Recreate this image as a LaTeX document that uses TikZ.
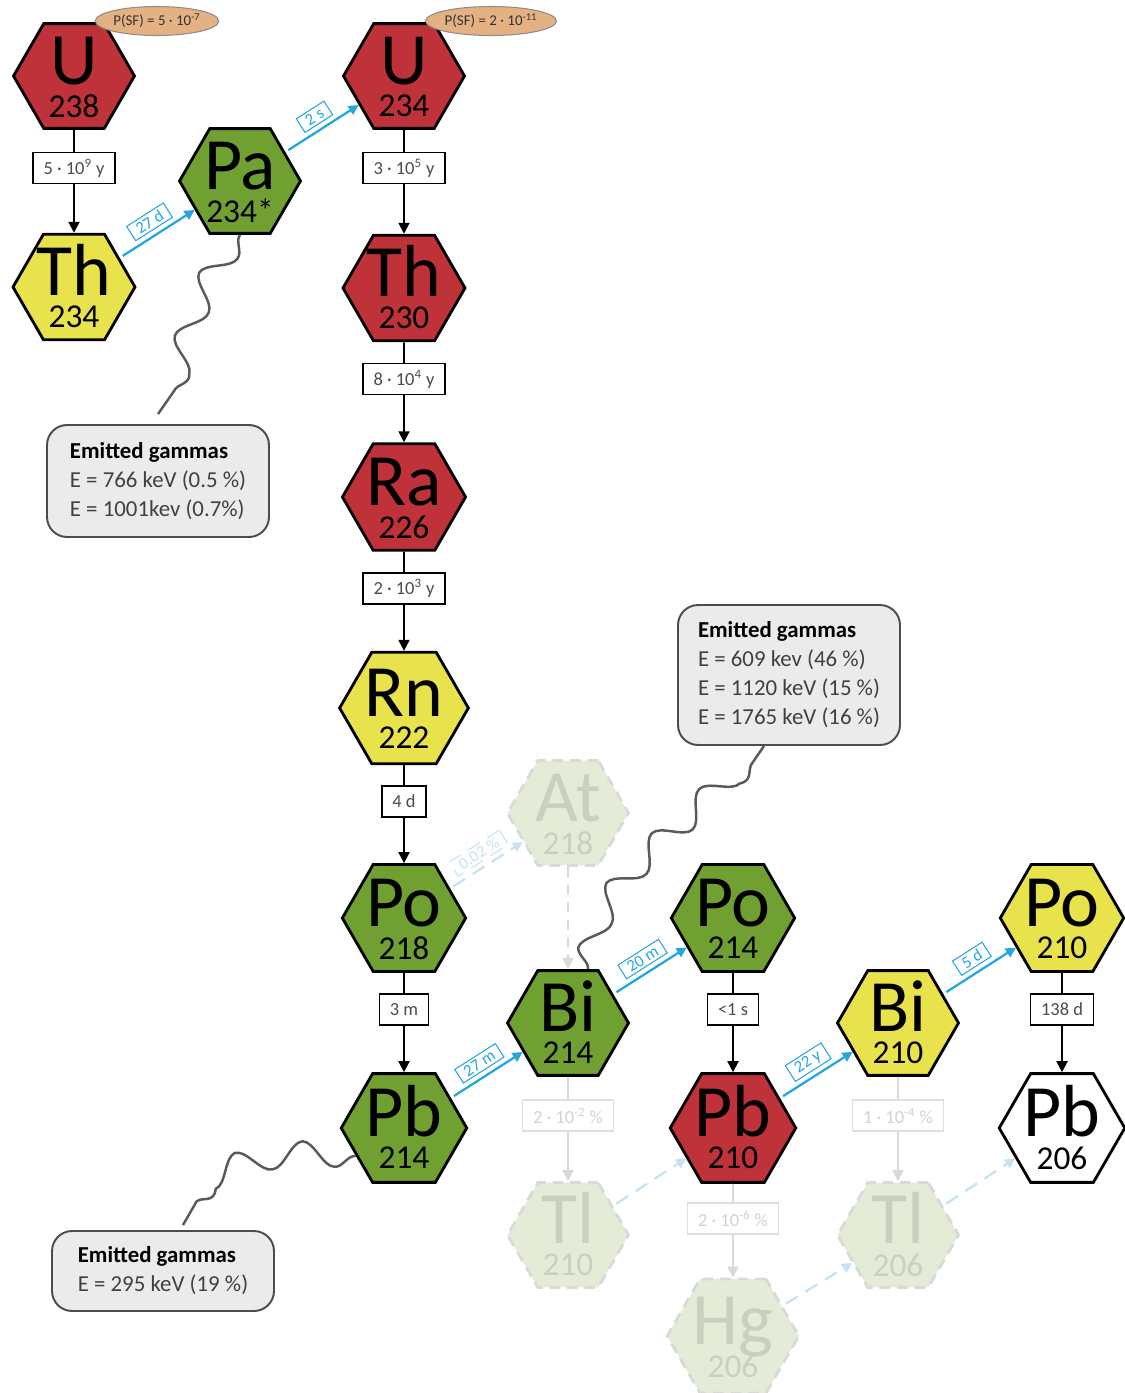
\documentclass[tikz,border=0pt]{standalone}
\usepackage{fontspec}
\setmainfont{Carlito}
\usetikzlibrary{shapes.geometric,arrows.meta,decorations.pathmorphing}

\definecolor{nucred}{RGB}{192,50,58}
\definecolor{nucgreen}{RGB}{112,160,50}
\definecolor{nucyellow}{RGB}{232,227,76}
\definecolor{decayblue}{RGB}{38,166,222}
\definecolor{fadefill}{RGB}{228,236,216}
\definecolor{fadetext}{RGB}{200,208,192}
\definecolor{fadeblue}{RGB}{198,226,242}
\definecolor{sfoval}{RGB}{228,178,130}
\definecolor{gammafill}{RGB}{235,235,235}

\tikzset{
    hexa/.style={regular polygon, regular polygon sides=6, minimum size=2.42cm,
        inner sep=0pt, draw=black, line width=1.6pt, text height=0.32cm, text depth=0cm,
        font=\fontsize{42}{42}\selectfont},
    hexred/.style={hexa, fill=nucred},
    hexgreen/.style={hexa, fill=nucgreen},
    hexyellow/.style={hexa, fill=nucyellow},
    hexwhite/.style={hexa, fill=white},
    hexfaded/.style={hexa, draw=gray!30, dash pattern=on 6pt off 4pt, fill=fadefill, text=fadetext},
    mass/.style={anchor=base, yshift=-0.6cm, font=\fontsize{19}{20}\selectfont},
    fmass/.style={mass, text=fadetext},
    decay/.style={-{Triangle[length=0.22cm, width=0.22cm]}, line width=1.1pt},
    fdecay/.style={decay, draw=gray!30},
    halflife/.style={draw=black, line width=0.8pt, fill=white, text=black!70,
        font=\fontsize{10.5}{12}\selectfont, inner xsep=6pt, minimum height=0.62cm, pos=.37},
    fhalflife/.style={halflife, draw=gray!25, text=gray!35},
    beta/.style={-{Triangle[length=0.2cm, width=0.2cm]}, line width=1.3pt, draw=decayblue,
        shorten <=2pt},
    fbeta/.style={beta, draw=fadeblue, dash pattern=on 8pt off 5pt},
    betalabel/.style={draw=decayblue, line width=0.6pt, fill=white, text=decayblue,
        font=\fontsize{9.5}{11}\selectfont, inner xsep=4pt, inner ysep=1.5pt, sloped, above=3pt},
    fbetalabel/.style={betalabel, draw=fadeblue, text=fadeblue},
    sf/.style={ellipse, draw=black!45, fill=sfoval, line width=0.6pt, text=black!80,
        font=\fontsize{8.5}{9}\selectfont, minimum width=2.42cm, minimum height=0.58cm, inner sep=0pt},
    gammas/.style={draw=black!70, line width=1.1pt, rounded corners=0.4cm, fill=gammafill,
        align=left, text=black!75, font=\fontsize{13}{16.5}\selectfont, minimum width=4.44cm},
    gammaray/.style={decorate, decoration={snake, amplitude=0.25cm, segment length=1.3cm},
        draw=black!65, line width=1.4pt}
}

\begin{document}
\begin{tikzpicture}[x=0.02cm, y=-0.02cm]
    \useasboundingbox (0,0) rectangle (1125,1393);

    % main chain
    \node[hexred, label={[mass]center:238}] (U238) at (74,76) {U};
    \node[hexyellow, label={[mass]center:234}] (Th234) at (74,287) {Th};
    \node[hexgreen, label={[mass]center:234*}] (Pa234) at (240,181) {Pa};
    \node[hexred, label={[mass]center:234}] (U234) at (404,76) {U};
    \node[hexred, label={[mass]center:230}] (Th230) at (404,288) {Th};
    \node[hexred, label={[mass]center:226}] (Ra226) at (404,497) {Ra};
    \node[hexyellow, label={[mass]center:222}] (Rn222) at (404,708) {Rn};
    \node[hexgreen, label={[mass]center:218}] (Po218) at (404,918) {Po};
    \node[hexgreen, label={[mass]center:214}] (Pb214) at (404,1128) {Pb};
    \node[hexgreen, label={[mass]center:214}] (Bi214) at (568,1023) {Bi};
    \node[hexgreen, label={[mass]center:214}] (Po214) at (733,918) {Po};
    \node[hexred, label={[mass]center:210}] (Pb210) at (733,1128) {Pb};
    \node[hexyellow, label={[mass]center:210}] (Bi210) at (898,1023) {Bi};
    \node[hexyellow, label={[mass]center:210}] (Po210) at (1062,918) {Po};
    \node[hexwhite, label={[mass]center:206}] (Pb206) at (1062,1128) {Pb};

    % rare branches
    \node[hexfaded, label={[fmass]center:218}] (At218) at (568,813) {At};
    \node[hexfaded, label={[fmass]center:210}] (Tl210) at (568,1235) {Tl};
    \node[hexfaded, label={[fmass]center:206}] (Hg206) at (733,1336) {Hg};
    \node[hexfaded, label={[fmass]center:206}] (Tl206) at (898,1235) {Tl};

    % spontaneous fission
    \node[sf] (sfU238) at (157,21) {P(SF) = 5 · 10\textsuperscript{-7}};
    \node[sf] (sfU234) at (491,21) {P(SF) = 2 · 10\textsuperscript{-11}};

    % gamma boxes
    \node[gammas, minimum height=2.24cm] (gammasA) at (158,481)
        {{\color{black}\textbf{Emitted gammas}}\\E = 766 keV (0.5 \%)\\E = 1001kev (0.7\%)};
    \node[gammas, minimum height=2.8cm] (gammasB) at (789,675)
        {{\color{black}\textbf{Emitted gammas}}\\E = 609 kev (46 \%)\\E = 1120 keV (15 \%)\\E = 1765 keV (16 \%)};
    \node[gammas, minimum height=1.6cm] (gammasC) at (163,1271)
        {{\color{black}\textbf{Emitted gammas}}\\E = 295 keV (19 \%)};

    % alpha decays
    \draw[decay] (U238) -- node[halflife] {5 · 10\textsuperscript{9} y} (Th234);
    \draw[decay] (U234) -- node[halflife] {3 · 10\textsuperscript{5} y} (Th230);
    \draw[decay] (Th230) -- node[halflife] {8 · 10\textsuperscript{4} y} (Ra226);
    \draw[decay] (Ra226) -- node[halflife] {2 · 10\textsuperscript{3} y} (Rn222);
    \draw[decay] (Rn222) -- node[halflife] {4 d} (Po218);
    \draw[decay] (Po218) -- node[halflife] {3 m} (Pb214);
    \draw[decay] (Po214) -- node[halflife] {<1 s} (Pb210);
    \draw[decay] (Po210) -- node[halflife] {138 d} (Pb206);
    \draw[fdecay, dash pattern=on 6pt off 4pt] (At218) -- (Bi214);
    \draw[fdecay] (Bi214) -- node[fhalflife] {2 · 10\textsuperscript{-2} \%} (Tl210);
    \draw[fdecay] (Pb210) -- node[fhalflife] {2 · 10\textsuperscript{-6} \%} (Hg206);
    \draw[fdecay] (Bi210) -- node[fhalflife] {1 · 10\textsuperscript{-4} \%} (Tl206);

    % beta decays
    \draw[beta] (Th234) -- node[betalabel] {27 d} (Pa234);
    \draw[beta] (Pa234) -- node[betalabel] {2 s} (U234);
    \draw[beta] (Pb214) -- node[betalabel] {27 m} (Bi214);
    \draw[beta] (Bi214) -- node[betalabel] {20 m} (Po214);
    \draw[beta] (Pb210) -- node[betalabel] {22 y} (Bi210);
    \draw[beta] (Bi210) -- node[betalabel] {5 d} (Po210);
    \draw[fbeta] (Po218) -- node[fbetalabel] {0.02 \%} (At218);
    \draw[fbeta] (Tl210) -- (Pb210);
    \draw[fbeta] (Hg206) -- (Tl206);
    \draw[fbeta] (Tl206) -- (Pb206);

    % gamma rays
    \draw[gammaray] (Pa234.south) .. controls (190,300) and (200,360) .. ([yshift=0.2cm]gammasA.north);
    \draw[gammaray] ([xshift=0.4cm]Bi214.north) .. controls (600,880) and (700,840) .. ([xshift=-0.5cm]gammasB.south);
    \draw[gammaray] (Pb214.210) .. controls (280,1150) and (210,1170) .. ([xshift=0.4cm, yshift=0.1cm]gammasC.north);
\end{tikzpicture}
\end{document}
